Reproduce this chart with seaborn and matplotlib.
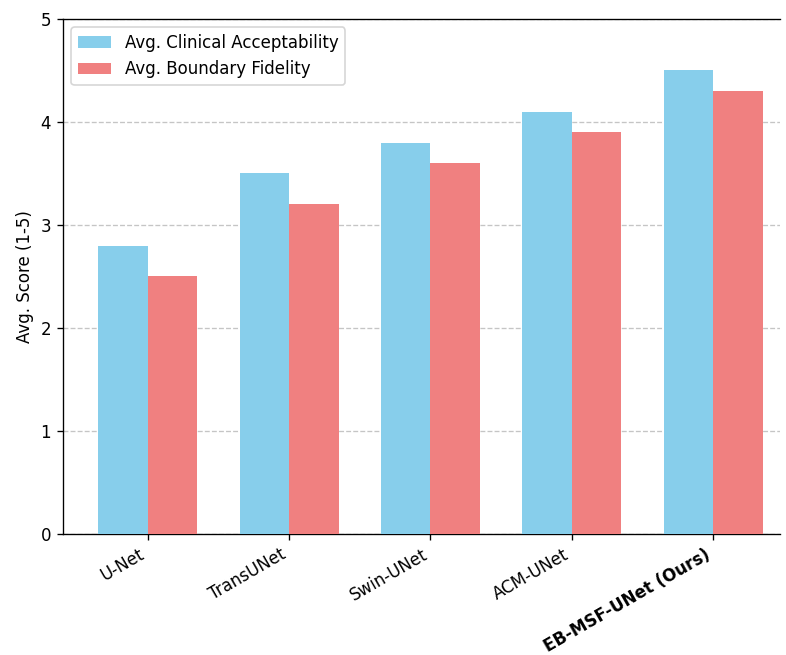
import numpy as np
import pandas as pd
import matplotlib
matplotlib.use("Agg")
import matplotlib.pyplot as plt
import seaborn as sns

models = ["U-Net", "TransUNet", "Swin-UNet", "ACM-UNet", "EB-MSF-UNet (Ours)"]
clinical = [2.8, 3.5, 3.8, 4.1, 4.5]
boundary = [2.5, 3.2, 3.6, 3.9, 4.3]
series = ["Avg. Clinical Acceptability", "Avg. Boundary Fidelity"]

df = pd.DataFrame({
    "Model": models * 2,
    "Score": clinical + boundary,
    "Metric": [series[0]] * len(models) + [series[1]] * len(models),
})

# plain matplotlib look, text in black
plt.rcParams["font.family"] = ["DejaVu Sans"]

fig = plt.figure(figsize=(786 / 120, 655 / 120), dpi=120)
ax = fig.add_axes([0.080, 0.185, 0.912, 0.786])

sns.barplot(data=df, x="Model", y="Score", hue="Metric",
            palette=["skyblue", "lightcoral"], width=0.7, saturation=1,
            linewidth=0, ax=ax, zorder=3)

ax.set_ylim(0, 5)
ax.set_xlim(-0.6, 4.47)
ax.set_xlabel("")
ax.set_ylabel("Avg. Score (1-5)")
ax.yaxis.grid(True, linestyle="--", color="gray", alpha=0.45, linewidth=0.8, zorder=0)
ax.set_axisbelow(True)
ax.spines["right"].set_visible(False)

ax.set_xticks(range(len(models)))
ax.set_xticklabels(models, rotation=30, ha="right")
ax.get_xticklabels()[-1].set_fontweight("bold")

ax.legend(loc="upper left", title=None)

fig.savefig("out.png", dpi=120)
